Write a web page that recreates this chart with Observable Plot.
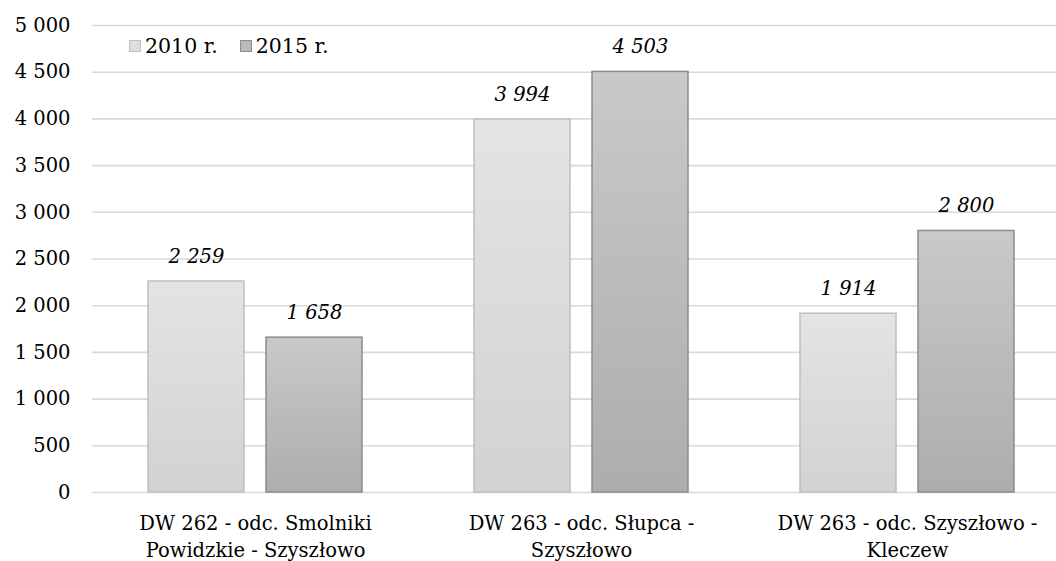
<!DOCTYPE html>
<html>
<head>
<meta charset="utf-8">
<script src="https://cdn.jsdelivr.net/npm/d3@7"></script>
<script src="https://cdn.jsdelivr.net/npm/@observablehq/plot@0.6"></script>
<style>
  html, body { margin: 0; padding: 0; background: #fff; }
  #wrap { position: relative; width: 1056px; height: 561px; font-family: "DejaVu Serif", serif; overflow: hidden; }
  #legend { position: absolute; left: 129px; top: 34px; display: flex; align-items: center; font-size: 20.5px; color: #000; }
  #legend .sw { width: 12px; height: 12px; margin-right: 4px; box-sizing: border-box; }
  #legend .item { display: flex; align-items: center; margin-right: 22px; }
</style>
</head>
<body>
<div id="wrap"><div id="legend"></div></div>
<script>
const categories = [
  "DW 262 - odc. Smolniki\nPowidzkie - Szyszłowo",
  "DW 263 - odc. Słupca -\nSzyszłowo",
  "DW 263 - odc. Szyszłowo -\nKleczew"
];
const years = ["2010 r.", "2015 r."];
const values2010 = [2259, 3994, 1914];
const values2015 = [1658, 4503, 2800];
const yTicks = [0, 500, 1000, 1500, 2000, 2500, 3000, 3500, 4000, 4500, 5000];

const data = [];
categories.forEach((c, i) => {
  data.push({cat: c, year: years[0], value: values2010[i]});
  data.push({cat: c, year: years[1], value: values2015[i]});
});
const fmt = n => d3.format(",")(n).replace(/,/g, " ");

const d10 = data.filter(d => d.year === years[0]);
const d15 = data.filter(d => d.year === years[1]);

const font = "DejaVu Serif";
const fs = 19.5;
const svg = Plot.plot({
  width: 1056,
  height: 561,
  marginLeft: 92,
  marginRight: -14,
  marginTop: 25,
  marginBottom: 69,
  style: {fontFamily: font, fontSize: fs + "px", color: "#000", background: "#fff", overflow: "hidden"},
  fx: {domain: categories, padding: 0, label: null},
  x: {domain: years, paddingInner: 0.186, paddingOuter: 0.474, axis: null},
  y: {domain: [0, 5000], label: null},
  marks: [
    Plot.gridY(yTicks, {stroke: "#d9d9d9", strokeOpacity: 1, strokeWidth: 1.6}),
    Plot.axisY(yTicks, {tickSize: 0, tickPadding: 22, tickFormat: fmt, fontSize: fs, label: null}),
    Plot.barY(d10, {fx: "cat", x: "year", y: "value", fill: "url(#g2010)", stroke: "#bfbfbf", strokeWidth: 1.5}),
    Plot.barY(d15, {fx: "cat", x: "year", y: "value", fill: "url(#g2015)", stroke: "#8c8c8c", strokeWidth: 1.5}),
    Plot.text(data, {fx: "cat", x: "year", y: "value", text: d => fmt(d.value), dy: -25, fontStyle: "italic", fontSize: fs, fill: "#000"}),
    Plot.axisFx({anchor: "bottom", tickSize: 0, tickPadding: 19, fontSize: fs, label: null, lineHeight: 1.35})
  ]
});

const defs = d3.select(svg).insert("defs", ":first-child");
function grad(id, top, bottom) {
  const g = defs.append("linearGradient").attr("id", id).attr("x1", 0).attr("y1", 0).attr("x2", 0).attr("y2", 1);
  g.append("stop").attr("offset", "0%").attr("stop-color", top);
  g.append("stop").attr("offset", "100%").attr("stop-color", bottom);
}
grad("g2010", "#e4e4e4", "#d2d2d2");
grad("g2015", "#c9c9c9", "#adadad");

document.getElementById("wrap").prepend(svg);

const legend = document.getElementById("legend");
[["2010 r.", "#dedede", "#bfbfbf"], ["2015 r.", "#b9b9b9", "#8c8c8c"]].forEach(([t, f, s]) => {
  const it = document.createElement("div");
  it.className = "item";
  const sw = document.createElement("div");
  sw.className = "sw";
  sw.style.background = f;
  sw.style.border = "1px solid " + s;
  it.appendChild(sw);
  const sp = document.createElement("span");
  sp.textContent = t;
  it.appendChild(sp);
  legend.appendChild(it);
});
</script>
</body>
</html>
